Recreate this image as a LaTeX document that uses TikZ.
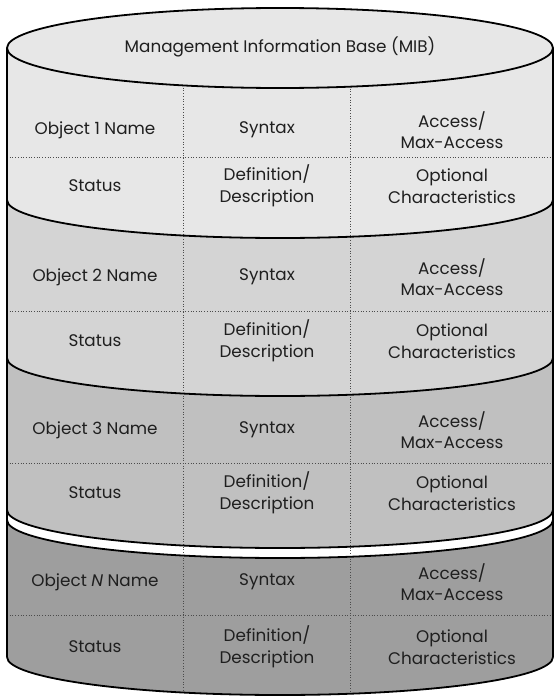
\documentclass[tikz,border=0pt]{standalone}
\usepackage{fontspec}
\setmainfont{Poppins}
\begin{document}
\begin{tikzpicture}[x=1pt,y=1pt,
  txt/.style={align=center,text=black!88,font=\fontsize{16.8}{21.5}\selectfont,inner sep=0pt},
  rim/.style={line width=1.8pt,draw=black},
  grid/.style={dotted,line width=0.7pt,draw=black!70}]
\definecolor{cA}{RGB}{231,231,231}
\definecolor{cB}{RGB}{212,212,212}
\definecolor{cC}{RGB}{192,192,192}
\definecolor{cN}{RGB}{158,158,158}
\useasboundingbox (0,0) rectangle (559,-696);
\fill[white] (0,0) rectangle (559,-696);
% section fills, bottom first
\fill[cN] (7,-520) -- (7,-657) arc[start angle=180,end angle=360,x radius=273,y radius=38] -- (553,-520) -- cycle;
\fill[white] (7,-510) -- (7,-520) arc[start angle=180,end angle=360,x radius=273,y radius=38] -- (553,-510) -- cycle;
\fill[cC] (7,-358) -- (7,-510) arc[start angle=180,end angle=360,x radius=273,y radius=38] -- (553,-358) -- cycle;
\fill[cB] (7,-200) -- (7,-358) arc[start angle=180,end angle=360,x radius=273,y radius=38] -- (553,-200) -- cycle;
\fill[cA] (7,-48) -- (7,-200) arc[start angle=180,end angle=360,x radius=273,y radius=38] -- (553,-48) -- cycle;
% dotted grid
\foreach \yy in {157,311,463,615} \draw[grid] (7,-\yy) -- (553,-\yy);
\draw[grid] (183,-85) -- (183,-692);
\draw[grid] (350,-86) -- (350,-693);
% rims
\draw[rim] (7,-200) arc[start angle=180,end angle=360,x radius=273,y radius=38];
\draw[rim] (7,-358) arc[start angle=180,end angle=360,x radius=273,y radius=38];
\draw[rim] (7,-510) arc[start angle=180,end angle=360,x radius=273,y radius=38];
\draw[rim] (7,-520) arc[start angle=180,end angle=360,x radius=273,y radius=38];
\draw[rim] (7,-657) arc[start angle=180,end angle=360,x radius=273,y radius=38];
\draw[rim] (7,-48) -- (7,-657);
\draw[rim] (553,-48) -- (553,-657);
% top ellipse
\draw[rim,fill=cA] (280,-48) ellipse[x radius=273,y radius=40];
% texts
\node[txt] (title) at (280,-47) {Management Information Base (MIB)};
\node[txt] (n1) at (95,-130) {Object 1 Name};
\node[txt] (s1) at (267,-130) {Syntax};
\node[txt] (a1) at (452,-130) {Access/\\Max-Access};
\node[txt] (t1) at (95,-186) {Status};
\node[txt] (d1) at (267,-186) {Definition/\\Description};
\node[txt] (o1) at (452,-186) {Optional\\Characteristics};
\node[txt] (n2) at (95,-277) {Object 2 Name};
\node[txt] (s2) at (267,-277) {Syntax};
\node[txt] (a2) at (452,-277) {Access/\\Max-Access};
\node[txt] (t2) at (95,-341) {Status};
\node[txt] (d2) at (267,-341) {Definition/\\Description};
\node[txt] (o2) at (452,-341) {Optional\\Characteristics};
\node[txt] (n3) at (95,-430) {Object 3 Name};
\node[txt] (s3) at (267,-430) {Syntax};
\node[txt] (a3) at (452,-430) {Access/\\Max-Access};
\node[txt] (t3) at (95,-493) {Status};
\node[txt] (d3) at (267,-493) {Definition/\\Description};
\node[txt] (o3) at (452,-493) {Optional\\Characteristics};
\node[txt] (nN) at (95,-582) {Object \textit{N} Name};
\node[txt] (sN) at (267,-582) {Syntax};
\node[txt] (aN) at (452,-582) {Access/\\Max-Access};
\node[txt] (tN) at (95,-647) {Status};
\node[txt] (dN) at (267,-647) {Definition/\\Description};
\node[txt] (oN) at (452,-647) {Optional\\Characteristics};
\end{tikzpicture}
\end{document}
